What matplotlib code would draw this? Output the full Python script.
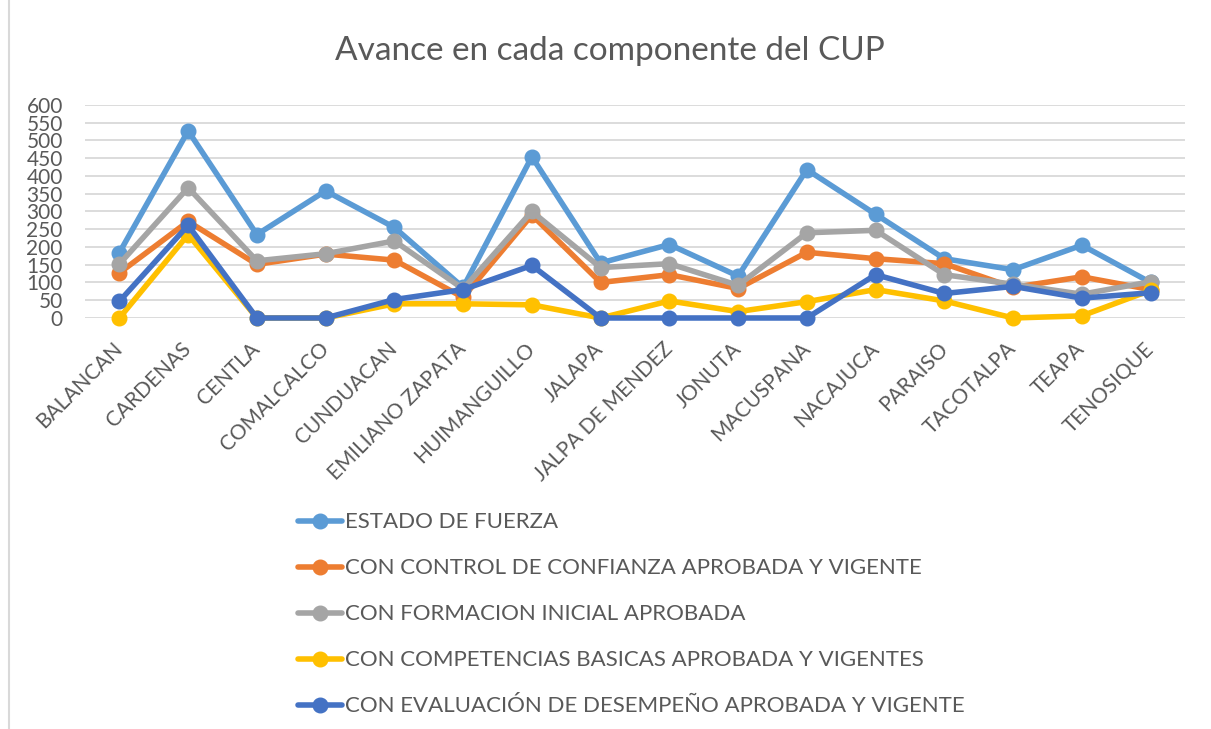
import matplotlib
matplotlib.use("Agg")
import matplotlib.pyplot as plt
from matplotlib.lines import Line2D

plt.rcParams['font.family'] = ['Lato', 'DejaVu Sans']

categories = ["BALANCAN", "CARDENAS", "CENTLA", "COMALCALCO", "CUNDUACAN",
              "EMILIANO ZAPATA", "HUIMANGUILLO", "JALAPA", "JALPA DE MENDEZ",
              "JONUTA", "MACUSPANA", "NACAJUCA", "PARAISO", "TACOTALPA",
              "TEAPA", "TENOSIQUE"]

estado_fuerza = [184, 527, 235, 358, 255, 86, 454, 155, 207, 118, 418, 292, 167, 136, 205, 100]
control_confianza = [127, 272, 151, 180, 163, 58, 290, 100, 122, 83, 185, 167, 153, 86, 116, 80]
formacion_inicial = [152, 367, 161, 181, 217, 82, 300, 142, 153, 92, 240, 247, 122, 95, 67, 102]
competencias = [0, 235, 0, 0, 40, 40, 37, 0, 48, 18, 46, 80, 48, 0, 6, 78]
evaluacion = [47, 261, 0, 0, 52, 80, 148, 0, 0, 0, 0, 122, 69, 89, 56, 71]

series_labels = ["ESTADO DE FUERZA",
                 "CON CONTROL DE CONFIANZA APROBADA Y VIGENTE",
                 "CON FORMACION INICIAL APROBADA",
                 "CON COMPETENCIAS BASICAS APROBADA Y VIGENTES",
                 "CON EVALUACIÓN DE DESEMPEÑO APROBADA Y VIGENTE"]
series_values = [estado_fuerza, control_confianza, formacion_inicial, competencias, evaluacion]
colors = ["#5B9BD5", "#ED7D31", "#A5A5A5", "#FFC000", "#4472C4"]

yticks = [0, 50, 100, 150, 200, 250, 300, 350, 400, 450, 500, 550, 600]

text_color = "#595959"

fig = plt.figure(figsize=(12.11, 7.29), dpi=100)
ax = fig.add_axes([0.0702, 0.5638, 0.9083, 0.2922])

x = list(range(len(categories)))
for vals, lab, col in zip(series_values, series_labels, colors):
    ax.plot(x, vals, color=col, lw=4.0, marker='o', markersize=10.5,
            label=lab, solid_capstyle='round', solid_joinstyle='round', clip_on=False)

ax.set_xlim(-0.5, len(categories) - 0.5)
ax.set_ylim(0, 600)
ax.set_yticks(yticks)
ax.set_yticklabels([str(v) for v in yticks])
ax.set_xticks(x)
ax.set_xticklabels(categories, rotation=45, ha='right', va='center', rotation_mode='anchor')
ax.tick_params(axis='y', length=0, labelsize=15, colors=text_color, pad=16)
ax.tick_params(axis='x', length=0, labelsize=15, colors=text_color, pad=20)
ax.yaxis.grid(True, color="#D9D9D9", lw=1.3)
ax.set_axisbelow(True)
for s in ax.spines.values():
    s.set_visible(False)

fig.text(0.504, 0.93, "Avance en cada componente del CUP", ha='center', va='center',
         fontsize=24, color=text_color)

leg = fig.legend(loc='upper left', bbox_to_anchor=(0.246, 0.297), frameon=False,
                 fontsize=16, labelspacing=1.17, handlelength=1.98, handletextpad=0.14,
                 borderaxespad=0, borderpad=0)
for t in leg.get_texts():
    t.set_color(text_color)

fig.add_artist(Line2D([0.0075, 0.0075], [0, 1], transform=fig.transFigure,
                      color="#D9D9D9", lw=1.5))

fig.savefig("out.png", dpi=100, facecolor='white')
